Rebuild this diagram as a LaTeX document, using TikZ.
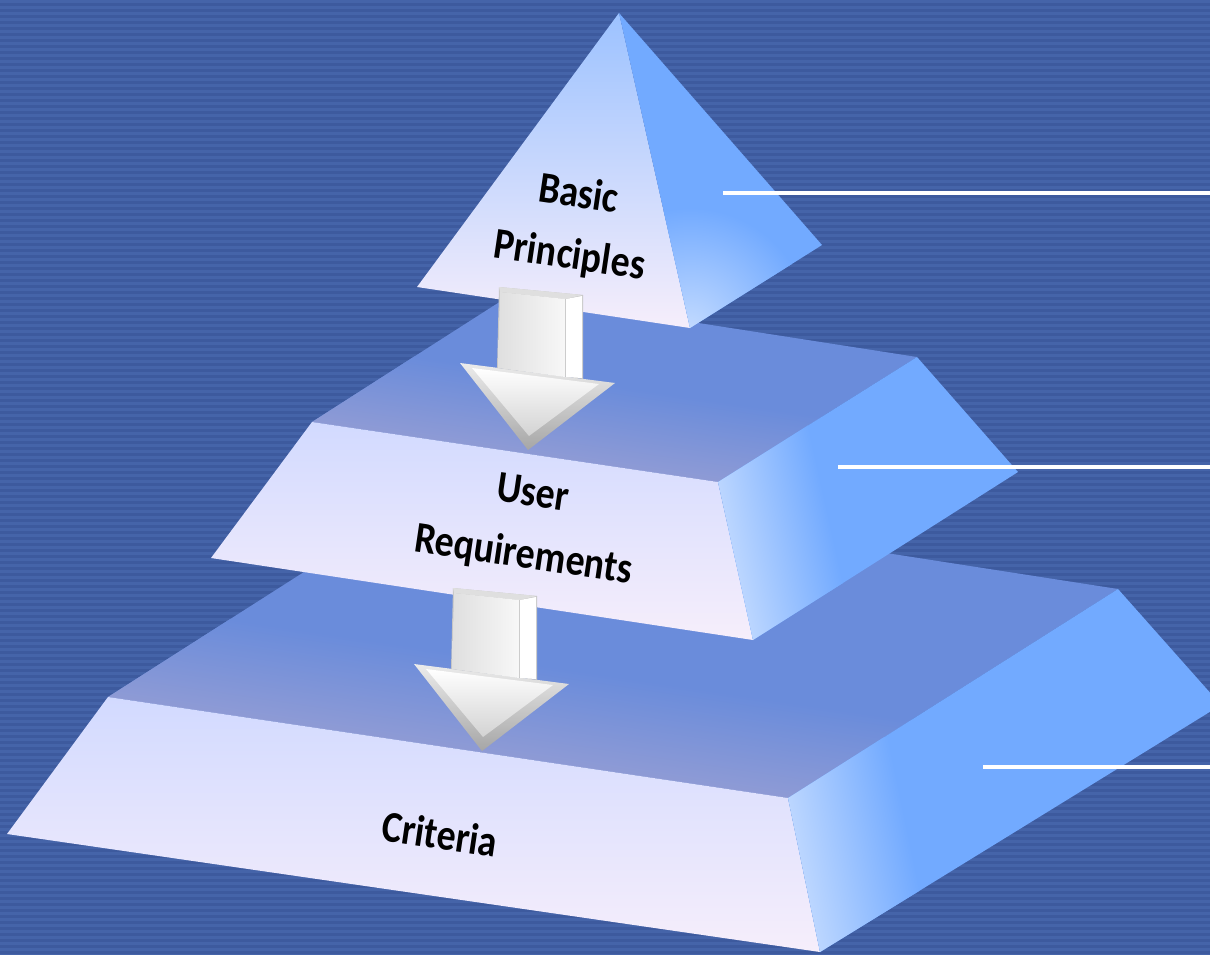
\documentclass[tikz,border=0pt]{standalone}
\usepackage{fontspec}
\setmainfont{Carlito}
\newfontfamily\lblfont[FakeStretch=0.86]{Carlito}
\begin{document}
\begin{tikzpicture}[x=1pt,y=-1pt,
  lbl/.style={font=\lblfont\bfseries\fontsize{44}{62}\selectfont, align=center, text=black, inner sep=0pt},
  lead/.style={draw=white, line width=4pt},
  pics/dnarrow/.style={code={
    % arrow head: outer bevel, then the lighter front face
    \shade[top color=gray!15, bottom color=gray!70] (-39,76) -- (116,96) -- (29,163) -- cycle;
    \shade[top color=white, bottom color=gray!35] (-27,81) -- (100,97) -- (30,149) -- cycle;
    % shaft: base, top bevel, front face and bright right side
    \fill[gray!45] (0,0) -- (84,8) -- (84,92) -- (-2,81) -- cycle;
    \fill[gray!25] (0,0) -- (84,8) -- (66,12) -- (1,5) -- cycle;
    \shade[left color=gray!25, right color=gray!6] (1,5) -- (66,12) -- (66,90) -- (-1,81) -- cycle;
    \fill[white] (67,12) -- (83,9) -- (83,91) -- (67,90) -- cycle;
  }},
]
\definecolor{bgblue}{HTML}{3D5A9E}
\definecolor{bgstripe}{HTML}{4564A9}
\definecolor{sideblue}{HTML}{72AAFF}
\definecolor{topblue}{HTML}{6A8CDB}
\definecolor{topband}{HTML}{8F9BD5}
\definecolor{edgelight}{HTML}{C2DAFF}
\definecolor{frontpale}{HTML}{F6EEFB}
\definecolor{fronttop}{HTML}{D2DAFF}
\definecolor{pyrtop}{HTML}{9CC2FF}
\definecolor{pyrmid}{HTML}{BACFFF}

\useasboundingbox (0,0) rectangle (1210,954);
\clip (0,0) rectangle (1210,954);

% striped background
\fill[bgblue] (0,0) rectangle (1210,954);
\foreach \k in {0,...,159} \fill[bgstripe] (0,6*\k) rectangle (1210,6*\k+3);

% corner points of the three levels
\coordinate (B1) at (108,697);  \coordinate (B2) at (788,798);
\coordinate (B3) at (820,952);  \coordinate (B4) at (7,834);
\coordinate (B5) at (1118,589); \coordinate (B6) at (1221,705);
\coordinate (B7) at (442,484);
\coordinate (M1) at (312,422);  \coordinate (M2) at (718,482);
\coordinate (M3) at (753,640);  \coordinate (M4) at (211,558);
\coordinate (M5) at (917,357);  \coordinate (M6) at (1018,472);
\coordinate (M7) at (512,294);
\coordinate (A)  at (619,13);   \coordinate (PL) at (417,287);
\coordinate (PF) at (690,328);  \coordinate (PR) at (822,245);

% ---- bottom level ----
\fill[topblue] (B1) -- (B7) -- (B5) -- (B2) -- cycle;
\begin{scope}
  \clip (B1) -- (B7) -- (B5) -- (B2) -- cycle;
  \begin{scope}[transform canvas={shift={(B1)}, rotate=-8.45}]
    \shade[top color=topblue, bottom color=topband] (-60,-95) rectangle (900,2);
  \end{scope}
\end{scope}
\shade[top color=fronttop, bottom color=frontpale] (B1) -- (B2) -- (B3) -- (B4) -- cycle;
\fill[sideblue] (B2) -- (B5) -- (B6) -- (B3) -- cycle;
\begin{scope}
  \clip (B2) -- (B5) -- (B6) -- (B3) -- cycle;
  \begin{scope}[transform canvas={shift={(B2)}, rotate=11.7}]
    \shade[left color=edgelight, right color=sideblue] (-10,-40) rectangle (110,230);
  \end{scope}
\end{scope}

% ---- middle level ----
\fill[topblue] (M1) -- (M7) -- (M5) -- (M2) -- cycle;
\begin{scope}
  \clip (M1) -- (M7) -- (M5) -- (M2) -- cycle;
  \begin{scope}[transform canvas={shift={(M1)}, rotate=-8.4}]
    \shade[top color=topblue, bottom color=topband] (-60,-80) rectangle (600,2);
  \end{scope}
\end{scope}
\shade[top color=fronttop, bottom color=frontpale] (M1) -- (M2) -- (M3) -- (M4) -- cycle;
\fill[sideblue] (M2) -- (M5) -- (M6) -- (M3) -- cycle;
\begin{scope}
  \clip (M2) -- (M5) -- (M6) -- (M3) -- cycle;
  \begin{scope}[transform canvas={shift={(M2)}, rotate=12.5}]
    \shade[left color=edgelight, right color=sideblue] (-10,-40) rectangle (100,220);
  \end{scope}
\end{scope}

% ---- top pyramid ----
\shade[top color=pyrtop, middle color=pyrmid, bottom color=frontpale] (A) -- (PL) -- (PF) -- cycle;
\fill[sideblue] (A) -- (PF) -- (PR) -- cycle;
\begin{scope}
  \clip (A) -- (PF) -- (PR) -- cycle;
  \shade[inner color=edgelight, outer color=sideblue] (PF) circle (120);
\end{scope}

% ---- downward arrows ----
\pic (arrowtop) at (499,287) {dnarrow};
\pic (arrowmid) at (453,588) {dnarrow};

% ---- labels ----
\node[lbl, rotate=-8.4] (basic) at (574,226) {Basic\\Principles};
\node[lbl, rotate=-8.4] (user) at (528,526) {User\\Requirements};
\node[lbl, rotate=-8.4] (crit) at (440,834) {Criteria};

% ---- leader lines ----
\coordinate (l1a) at (723,193); \coordinate (l1b) at (1214,193);
\coordinate (l2a) at (838,467); \coordinate (l2b) at (1214,467);
\coordinate (l3a) at (983,767); \coordinate (l3b) at (1214,767);
\draw[lead] (l1a) -- (l1b);
\draw[lead] (l2a) -- (l2b);
\draw[lead] (l3a) -- (l3b);
\end{tikzpicture}
\end{document}
